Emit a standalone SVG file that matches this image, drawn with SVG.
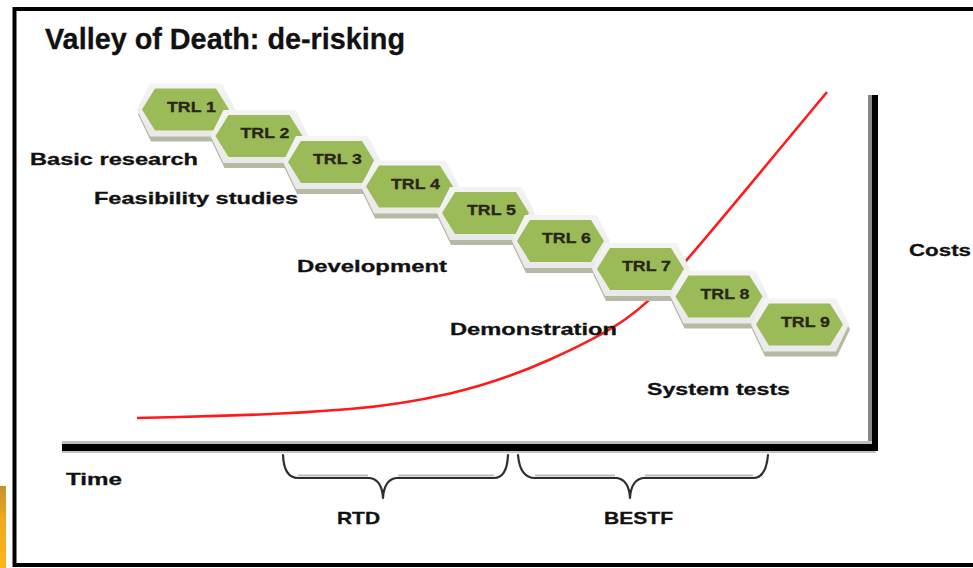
<svg xmlns="http://www.w3.org/2000/svg" xmlns:xlink="http://www.w3.org/1999/xlink" width="973" height="568" viewBox="0 0 973 568">
<style>
.lbl{font-family:"Liberation Sans",Arial,sans-serif;font-weight:bold;font-size:17px;fill:#111;stroke:#111;stroke-width:0.3;}
.trl{font-family:"Liberation Sans",Arial,sans-serif;font-weight:bold;font-size:15px;fill:#2a2618;stroke:#2a2618;stroke-width:0.3;}
.brace{fill:none;stroke:#2e2e2e;stroke-width:2.2;stroke-linejoin:round;stroke-linecap:round;}
.brace-hl{fill:none;stroke:#bcbcbc;stroke-width:2;stroke-linejoin:round;}
</style>
<defs>
<linearGradient id="gold" x1="0" y1="0" x2="0" y2="1">
<stop offset="0" stop-color="#c4902c"/>
<stop offset="0.4" stop-color="#f0a820"/>
<stop offset="1" stop-color="#ffb418"/>
</linearGradient>
<linearGradient id="face" x1="0" y1="0" x2="0" y2="1">
<stop offset="0" stop-color="#f4f4f4"/>
<stop offset="1" stop-color="#e9e9e9"/>
</linearGradient>
<g id="hex">
<polygon points="-47,5 -34,-21 38,-21 51,5 38,32 -34,32" fill="#b5baa5"/>
<polygon points="-48,0 -35,-26 37,-26 50,0 37,27 -35,27" fill="url(#face)"/>
<polygon points="-43,0 -30,-21 31,-21 44,0 31,21 -30,21" fill="#9bbb59"/>
</g>
</defs>
<rect width="973" height="568" fill="#fff"/>
<rect x="0" y="486" width="6" height="82" fill="url(#gold)"/>
<rect x="14.5" y="9" width="1000" height="556" fill="none" stroke="#000" stroke-width="4"/>
<text class="lbl" x="45" y="49" style="font-size:29px" textLength="360" lengthAdjust="spacingAndGlyphs">Valley of Death: de-risking</text>

<g id="cost-curve">
<path d="M137,418 L178.5,417 Q220,416 260,414.5 Q300,413 350,409 Q400,405 450,393.5 Q500,382 550,359.5 Q600,337 625,319.5 Q650,302 675,273.5 Q700,245 763.5,168.5 L827,92" fill="none" stroke="#ff1a1a" stroke-width="2.6"/>
</g>

<g id="axes">
<rect x="62" y="441" width="810" height="3" fill="#bdbdbd"/>
<rect x="62" y="451" width="814" height="2" fill="#c4c4c4"/>
<rect x="62" y="444" width="816" height="7" fill="#000"/>
<rect x="868" y="95" width="4" height="346" fill="#888"/>
<rect x="872" y="95" width="6" height="356" fill="#000"/>
</g>

<g id="trl1"><use xlink:href="#hex" x="185" y="109.5"/><text class="trl" x="167" y="111.5" textLength="49" lengthAdjust="spacingAndGlyphs">TRL 1</text></g>
<g id="trl2"><use xlink:href="#hex" x="258.5" y="136"/><text class="trl" x="240.5" y="138" textLength="49" lengthAdjust="spacingAndGlyphs">TRL 2</text></g>
<g id="trl3"><use xlink:href="#hex" x="331" y="162"/><text class="trl" x="313" y="164" textLength="49" lengthAdjust="spacingAndGlyphs">TRL 3</text></g>
<g id="trl4"><use xlink:href="#hex" x="409" y="186.5"/><text class="trl" x="391" y="188.5" textLength="49" lengthAdjust="spacingAndGlyphs">TRL 4</text></g>
<g id="trl5"><use xlink:href="#hex" x="485" y="213"/><text class="trl" x="467" y="215" textLength="49" lengthAdjust="spacingAndGlyphs">TRL 5</text></g>
<g id="trl6"><use xlink:href="#hex" x="560" y="241"/><text class="trl" x="542" y="243" textLength="49" lengthAdjust="spacingAndGlyphs">TRL 6</text></g>
<g id="trl7"><use xlink:href="#hex" x="640" y="269"/><text class="trl" x="622" y="271" textLength="49" lengthAdjust="spacingAndGlyphs">TRL 7</text></g>
<g id="trl8"><use xlink:href="#hex" x="718.5" y="296.5"/><text class="trl" x="700.5" y="298.5" textLength="49" lengthAdjust="spacingAndGlyphs">TRL 8</text></g>
<g id="trl9"><use xlink:href="#hex" x="799" y="324.5"/><text class="trl" x="781" y="326.5" textLength="49" lengthAdjust="spacingAndGlyphs">TRL 9</text></g>

<g id="labels">
<text class="lbl" x="30" y="165" textLength="168" lengthAdjust="spacingAndGlyphs">Basic research</text>
<text class="lbl" x="94" y="204" textLength="204" lengthAdjust="spacingAndGlyphs">Feasibility studies</text>
<text class="lbl" x="297" y="272" textLength="150" lengthAdjust="spacingAndGlyphs">Development</text>
<text class="lbl" x="450" y="335" textLength="167" lengthAdjust="spacingAndGlyphs">Demonstration</text>
<text class="lbl" x="647" y="395" textLength="143" lengthAdjust="spacingAndGlyphs">System tests</text>
<text class="lbl" x="909" y="256" textLength="62" lengthAdjust="spacingAndGlyphs">Costs</text>
<text class="lbl" x="66" y="485" textLength="56" lengthAdjust="spacingAndGlyphs">Time</text>
<text class="lbl" x="337" y="524" textLength="43" lengthAdjust="spacingAndGlyphs">RTD</text>
<text class="lbl" x="604" y="524" textLength="69" lengthAdjust="spacingAndGlyphs">BESTF</text>
</g>

<g id="braces">
<path class="brace-hl" d="M298,475.5 L368,475.5 M398,475.5 L494,475.5"/>
<path class="brace-hl" d="M535,475.5 L615,475.5 M645,475.5 L753,475.5"/>
<path class="brace" d="M283,455 Q284,478 298,478 L370,478 Q382,480 383,498 Q384,480 396,478 L494,478 Q507,478 508,455"/>
<path class="brace" d="M518,455 Q520,478 535,478 L617,478 Q629,480 630,498 Q631,480 643,478 L753,478 Q766,478 768,455"/>
</g>
</svg>
